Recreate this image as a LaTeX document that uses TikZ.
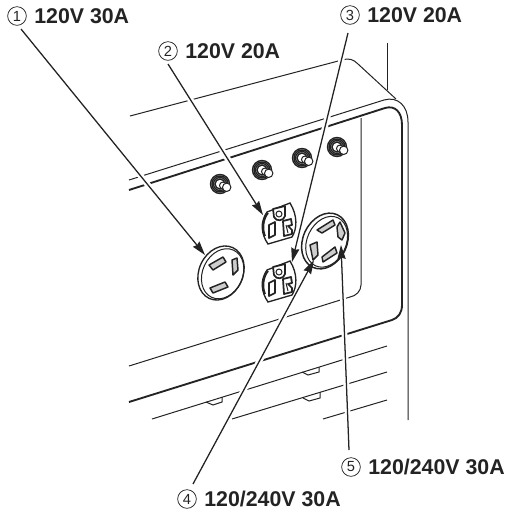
\documentclass[tikz,border=0pt]{standalone}
\usepackage{fontspec}
\setmainfont{Liberation Sans}
\usetikzlibrary{arrows.meta,positioning}
\definecolor{ink}{RGB}{35,35,35}
\definecolor{bladefill}{RGB}{205,205,205}
\tikzset{
  ln/.style={draw=ink,line width=0.75pt},
  thk/.style={draw=ink,line width=1.4pt},
  arr/.style={-{Stealth[length=10.5pt,width=6.2pt,inset=1pt]},draw=ink,fill=ink,line width=0.95pt},
  halo/.style={draw=white,line width=4.5pt,shorten >=30pt},
  num/.style={circle,draw=ink,line width=0.55pt,minimum size=14pt,inner sep=0pt,font=\fontsize{11}{11}\selectfont,text=ink},
  lab/.style={inner sep=0pt,font=\fontsize{16}{16}\selectfont\bfseries,text=ink},
  blade/.style={draw=ink,fill=bladefill,line width=1.1pt,line join=round},
  slot/.style={draw=ink,fill=white,line width=1.3pt,line join=round},
  pics/knob/.style={code={
    \foreach \r in {9.5,8,6.5,5} {\draw[draw=ink,fill=white,line width=1.05pt] (0,0) circle[radius=\r];}
    \draw[ln,fill=white] (3,1.5) circle[radius=3.5];
    \draw[ln,fill=white] (6.7,3.3) circle[radius=4.2];
  }},
  pics/duplex/.style={code={
    \draw[draw=ink,fill=white,line width=1pt] (-12,-12) -- (11,-21) .. controls (19,-8) and (18,5) .. (13,13)
      -- (-11,20) .. controls (-18,10) and (-19,-2) .. cycle;
    \draw[thk] (-14,12) .. controls (-17,5) and (-16,-5) .. (-11,-11);
    \draw[slot] (-6,-15) -- (6,-18) -- (6,-8) .. controls (5,-3) and (-3,-2) .. (-5,-7) -- cycle;
    \draw[ln] (0,-10) circle[radius=3];
    \draw[slot] (-10,1) -- (-4,-2) -- (-4,11) -- (-10,14) -- cycle;
    \draw[slot] (4,-3) -- (12,-5) -- (13,1) -- (9,2) -- (13,6) -- (13,10) -- (5,12) -- cycle;
    \draw[ln] (7,1) -- (9,9);
  }},
}

\begin{document}
\begin{tikzpicture}[x=0.75pt,y=-0.75pt]
  \useasboundingbox (0,0) rectangle (505,512);

  % ── Arrow ends ─────────────────────────────────────────────────────────────
  \coordinate (s1) at (21,29);
  \coordinate (t1) at (205,255);
  \coordinate (s2) at (168,64);
  \coordinate (t2) at (263,215);
  \coordinate (s3) at (348,33);
  \coordinate (t3) at (292,262);
  \coordinate (s4) at (193,484);
  \coordinate (t4) at (314,260);
  \coordinate (s5) at (349,450);
  \coordinate (t5) at (341,245);

  % ── Housing ────────────────────────────────────────────────────────────────
  \draw[ln] (130,116) -- (342,60) .. controls (349,58) and (353,59) .. (358,64) -- (396,99);
  \draw[ln] (387,43) -- (387,90);
  \draw[ln] (129,180) -- (384,100) .. controls (398,96) and (408,106) .. (408,122) -- (408,420);
  \draw[thk] (129,190) -- (385,108) .. controls (395,105) and (402,112) .. (402,125) -- (402,305)
    .. controls (402,313) and (398,318) .. (392,320) -- (129,402);
  \draw[ln] (361,118) -- (361,285) .. controls (361,291) and (356,296) .. (350,297) -- (129,366);
  \draw[ln] (387,346) -- (152,419);
  \draw[ln] (387,372) -- (232,419);
  \draw[ln] (387,400) -- (323,419);

  % ── Tabs ───────────────────────────────────────────────────────────────────
  \draw[ln] (206,402) -- (213,405) -- (222,402) -- (222,397);
  \draw[ln] (302,372) -- (308,375) -- (319,372) -- (319,367);
  \draw[ln] (303,398) -- (309,401) -- (320,398) -- (320,392);

  % ── Gaps where the arrows cross ────────────────────────────────────────────
  \draw[halo] (s1) -- (t1);
  \draw[halo] (s2) -- (t2);
  \draw[halo] (s3) -- (t3);
  \draw[halo] (s4) -- (t4);
  \draw[halo] (s5) -- (t5);

  % ── Knobs ──────────────────────────────────────────────────────────────────
  \pic at (220,184) {knob};
  \pic at (262,170) {knob};
  \pic at (302,158) {knob};
  \pic at (337,147) {knob};

  % ── Outlets ────────────────────────────────────────────────────────────────
  \pic at (279,224) {duplex};
  \pic at (279,282) {duplex};

  \begin{scope}[shift={(221,273)}]
    \draw[draw=ink,fill=white,line width=1pt,rotate=-25] (0,0) ellipse[x radius=22,y radius=28];
    \draw[ln,rotate=-25] (1.8,0) ellipse[x radius=20,y radius=26];
    \draw[blade] (-12,-8) -- (2,-16) -- (5,-11) -- (-8,-3) -- cycle;
    \draw[blade] (11,-13) -- (16,-15) -- (17,-3) -- (12,2) -- cycle;
    \draw[blade] (-11,15) -- (4,9) -- (7,14) -- (-8,20) -- cycle;
  \end{scope}

  \begin{scope}[shift={(325,241)}]
    \draw[draw=ink,fill=white,line width=1.1pt,rotate=-25] (0,0) ellipse[x radius=22,y radius=29];
    \draw[ln,rotate=-25] (1.8,0) ellipse[x radius=19.5,y radius=26.5];
    \draw[blade] (-8,-11) -- (8,-21) -- (10,-16) -- (-3,-8) -- cycle;
    \draw[blade] (12,-14) -- (15,-19) -- (20,-8) -- (17,-1) -- (13,-4) -- cycle;
    \draw[blade] (-3,16) -- (10,6) -- (12,12) -- (-2,21) -- cycle;
    \draw[blade] (-15,4) -- (-8,1) -- (-7,14) -- (-12,19) -- cycle;
  \end{scope}

  % ── Arrows ─────────────────────────────────────────────────────────────────
  \draw[arr] (s1) -- (t1);
  \draw[arr] (s2) -- (t2);
  \draw[arr] (s3) -- (t3);
  \draw[arr] (s4) -- (t4);
  \draw[arr] (s5) -- (t5);

  % ── Labels ─────────────────────────────────────────────────────────────────
  \node[num] (n1) at (17,16) {1};
  \node[lab,right=5.5pt of n1] (l1) {120V 30A};
  \node[num] (n2) at (168,51) {2};
  \node[lab,right=5.5pt of n2] (l2) {120V 20A};
  \node[num] (n3) at (350,15) {3};
  \node[lab,right=5.5pt of n3] (l3) {120V 20A};
  \node[num] (n4) at (187,499) {4};
  \node[lab,right=5.5pt of n4] (l4) {120/240V 30A};
  \node[num] (n5) at (351,467) {5};
  \node[lab,right=5.5pt of n5] (l5) {120/240V 30A};

\end{tikzpicture}
\end{document}
